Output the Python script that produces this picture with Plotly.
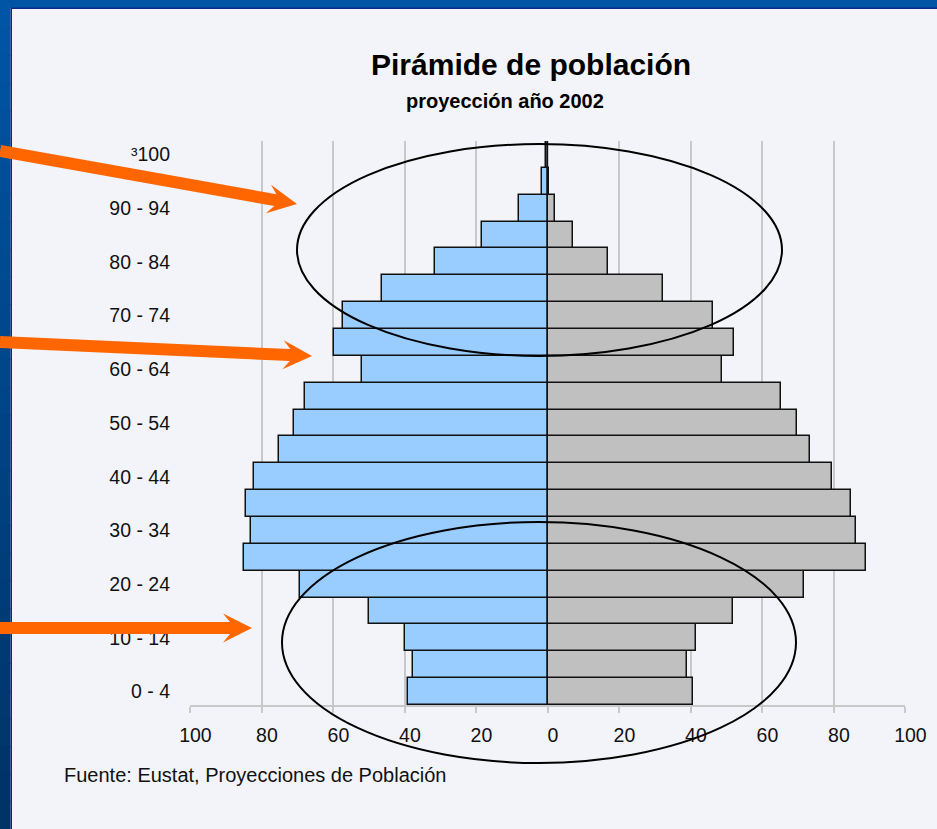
import plotly.graph_objects as go
import math

# ---------------- data ----------------
age_groups = ["0 - 4", "5 - 9", "10 - 14", "15 - 19", "20 - 24", "25 - 29", "30 - 34",
              "35 - 39", "40 - 44", "45 - 49", "50 - 54", "55 - 59", "60 - 64", "65 - 69",
              "70 - 74", "75 - 79", "80 - 84", "85 - 89", "90 - 94", "95 - 99", "³100"]
left_values = [38.9, 37.5, 40.0, 50.0, 69.1, 85.0, 82.9, 84.2, 82.0, 75.2, 71.0,
               67.9, 52.0, 59.8, 57.3, 46.4, 31.5, 18.3, 8.0, 1.5, 0.3]
right_values = [40.8, 39.1, 41.6, 51.8, 71.7, 89.2, 86.2, 84.9, 79.7, 73.4, 69.8,
                65.2, 48.9, 52.3, 46.3, 32.3, 16.9, 7.1, 2.2, 0.3, 0.2]
x_tickvals = [-100, -80, -60, -40, -20, 0, 20, 40, 60, 80, 100]
x_ticktext = ["100", "80", "60", "40", "20", "0", "20", "40", "60", "80", "100"]
y_label_groups = age_groups[::2]

title_text = "<b>Pirámide de población</b>"
subtitle_text = "<b>proyección año 2002</b>"
source_text = "Fuente: Eustat, Proyecciones de Población"

# ---------------- layout geometry (pixels) ----------------
W, H = 937, 829
PL, PR, PT, PB = 190, 905, 141, 705   # plot area


def px(x):
    return (x - PL) / (PR - PL)


def py(y):
    return (PB - y) / (PB - PT)


FONT = "Liberation Sans, Arial, sans-serif"
PANEL = "#F3F4F9"

fig = go.Figure()
fig.add_trace(go.Bar(
    y=age_groups, x=[-v for v in left_values], orientation="h",
    marker=dict(color="#99CCFF", line=dict(color="#111111", width=1.5)),
    width=1, showlegend=False, hoverinfo="skip"))
fig.add_trace(go.Bar(
    y=age_groups, x=right_values, orientation="h",
    marker=dict(color="#C0C0C0", line=dict(color="#111111", width=1.5)),
    width=1, showlegend=False, hoverinfo="skip"))

shapes = []

# background border: top band and left gradient band
shapes.append(dict(type="rect", xref="paper", yref="paper", layer="below",
                   x0=px(0), x1=px(W), y0=py(0), y1=py(8),
                   fillcolor="#0055A5", line=dict(width=0)))
shapes.append(dict(type="rect", xref="paper", yref="paper", layer="below",
                   x0=px(11), x1=px(W), y0=py(7.5), y1=py(9),
                   fillcolor="#0A2A8C", line=dict(width=0)))
n = 30
c0 = (0x00, 0x55, 0xA5)
c1 = (0x00, 0x33, 0x66)
for i in range(n):
    t = i / (n - 1)
    c = tuple(int(round(a + (b - a) * t)) for a, b in zip(c0, c1))
    y0 = H * i / n
    y1 = H * (i + 1) / n + 1
    shapes.append(dict(type="rect", xref="paper", yref="paper", layer="below",
                       x0=px(0), x1=px(10.5), y0=py(y0), y1=py(min(y1, H)),
                       fillcolor="rgb(%d,%d,%d)" % c, line=dict(width=0)))
shapes.append(dict(type="rect", xref="paper", yref="paper", layer="below",
                   x0=px(10.5), x1=px(12), y0=py(8), y1=py(H),
                   fillcolor="#0A2A7A", line=dict(width=0)))

# ellipses
for (x0, y0, x1, y1) in [(297, 144, 782, 356), (282, 522, 796, 763)]:
    shapes.append(dict(type="circle", xref="paper", yref="paper",
                       x0=px(x0), x1=px(x1), y0=py(y0), y1=py(y1),
                       line=dict(color="black", width=2)))


def arrow_path(xs, ys, xt, yt, shaft_w, head_len, head_w):
    dx, dy = xt - xs, yt - ys
    L = math.hypot(dx, dy)
    ux, uy = dx / L, dy / L
    nx, ny = -uy, ux
    bx, by = xt - ux * head_len, yt - uy * head_len
    pts = [
        (xs + nx * shaft_w / 2, ys + ny * shaft_w / 2),
        (bx + nx * shaft_w / 2, by + ny * shaft_w / 2),
        (bx - ux * 7 + nx * head_w / 2, by - uy * 7 + ny * head_w / 2),
        (xt, yt),
        (bx - ux * 7 - nx * head_w / 2, by - uy * 7 - ny * head_w / 2),
        (bx - nx * shaft_w / 2, by - ny * shaft_w / 2),
        (xs - nx * shaft_w / 2, ys - ny * shaft_w / 2),
    ]
    d = "M " + " L ".join("%.5f,%.5f" % (px(x), py(y)) for x, y in pts) + " Z"
    return d


for (xs, ys, xt, yt) in [(0, 151, 297, 204), (0, 342, 312, 356), (0, 628, 252, 628)]:
    shapes.append(dict(type="path", xref="paper", yref="paper",
                       path=arrow_path(xs, ys, xt, yt, 12, 22, 29),
                       fillcolor="#FF6600", line=dict(width=0)))

annotations = [
    dict(text=title_text, x=px(531), y=py(65), xref="paper", yref="paper",
         showarrow=False, xanchor="center", yanchor="middle",
         font=dict(family=FONT, size=30, color="black")),
    dict(text=subtitle_text, x=px(505), y=py(101), xref="paper", yref="paper",
         showarrow=False, xanchor="center", yanchor="middle",
         font=dict(family=FONT, size=20, color="black")),
    dict(text=source_text, x=px(62), y=py(775), xref="paper", yref="paper",
         showarrow=False, xanchor="left", yanchor="middle",
         font=dict(family=FONT, size=20, color="#111111")),
]

fig.update_layout(
    width=W, height=H,
    margin=dict(l=PL, r=W - PR, t=PT, b=H - PB, pad=0, autoexpand=False),
    paper_bgcolor=PANEL, plot_bgcolor=PANEL,
    barmode="overlay", bargap=0,
    shapes=shapes, annotations=annotations,
    xaxis=dict(range=[-100, 100], tickvals=x_tickvals,
               ticktext=["\u00a0\u00a0" + t for t in x_ticktext],
               automargin=False,
               showgrid=True, gridcolor="#C8C8C8", gridwidth=1.5,
               zeroline=False, showline=True, linecolor="#C8C8C8", linewidth=2,
               ticks="outside", ticklen=6, tickcolor="#C8C8C8", tickwidth=1.5,
               ticklabelstandoff=6,
               tickfont=dict(family=FONT, size=19.5, color="#111111"), fixedrange=True),
    yaxis=dict(type="category", categoryorder="array", categoryarray=age_groups,
               range=[-0.5, len(age_groups) - 0.5],
               tickvals=y_label_groups, ticktext=y_label_groups,
               automargin=False,
               showgrid=False, zeroline=False, showline=False, ticks="",
               ticklabelstandoff=19,
               tickfont=dict(family=FONT, size=19.5, color="#111111"), fixedrange=True),
)

fig.write_html("out.html", config={"displayModeBar": False},
               post_script="document.body.style.margin='0';document.body.style.padding='0';"
                           "document.documentElement.style.overflow='hidden';")
